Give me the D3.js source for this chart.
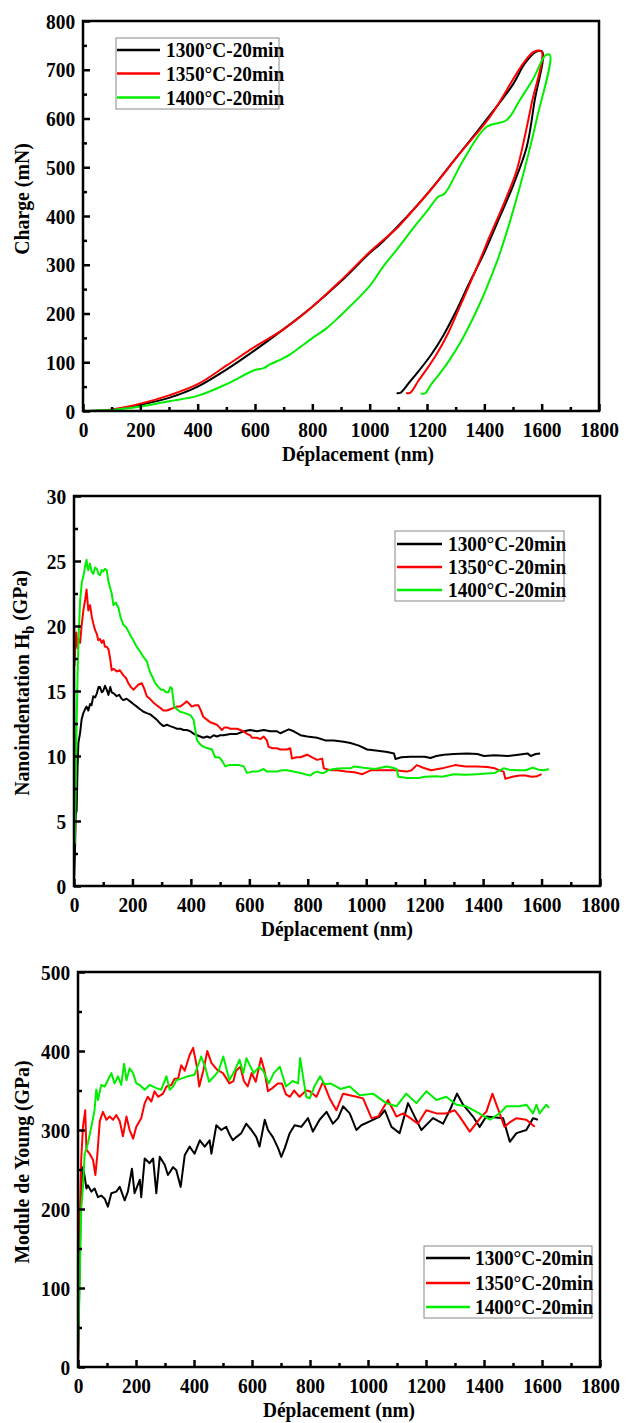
<!DOCTYPE html>
<html>
<head>
<meta charset="utf-8">
<script src="https://cdn.jsdelivr.net/npm/d3@7"></script>
<style>
  body { margin: 0; background: #fff; }
  text { font-family: "Liberation Serif", "Times New Roman", serif; font-weight: bold; fill: #000; }
</style>
</head>
<body>
<div id="root"></div>
<script>
// legend labels and colours
const seriesNames = ['1300°C-20min', '1350°C-20min', '1400°C-20min']
const seriesColors = ['#000000', '#ff0000', '#00ee00']

// shared x ticks (nm)
const xTicks = [0, 200, 400, 600, 800, 1000, 1200, 1400, 1600, 1800]
const xMinor = [100, 300, 500, 700, 900, 1100, 1300, 1500, 1700]

// panel 1 : load (mN) vs displacement (nm), loading + unloading
const load1300 = [[0,0],[50,0.5],[100,2],[200,13],[300,27],[400,50],[500,85],[600,125],[700,168],[800,214],[900,266],[1000,324],[1036,342],[1100,380],[1200,445],[1300,518],[1400,592],[1500,670],[1540,712],[1580,737],[1602,737],
  [1575,635],[1548,542],[1500,462],[1450,393],[1400,325],[1344,258],[1300,203],[1257,155],[1215,116],[1175,85],[1140,60],[1106,37],[1094,37]]
const load1350 = [[0,0],[50,0.5],[100,3],[200,15],[300,32],[400,55],[500,93],[600,132],[700,168],[800,214],[900,268],[1000,326],[1100,378],[1141,405],[1222,460],[1315,529],[1420,604],[1536,713],[1573,737],[1600,737],
  [1565,631],[1540,560],[1513,494],[1470,428],[1420,360],[1385,310],[1350,262],[1310,208],[1274,160],[1235,118],[1199,86],[1170,62],[1141,37],[1127,37]]
const load1400 = [[0,0],[100,2],[200,9],[300,20],[399,31],[500,55],[599,84],[630,88],[650,95],[698,108],[720,115],[799,149],[850,170],[895,194],[998,255],[1047,296],[1100,335],[1152,375],[1200,410],[1240,440],[1260,445],[1327,515],[1408,583],[1478,597],[1524,638],[1571,682],[1614,730],[1629,730],
  [1582,597],[1555,530],[1524,460],[1490,390],[1454,323],[1420,270],[1385,221],[1350,178],[1315,139],[1280,106],[1245,77],[1215,55],[1193,36],[1178,36]]

// panel 2 : hardness (GPa) vs displacement (nm)
const hard1300 = [[0,0.3],[3,2.4],[6,5.5],[9,5.8],[12,9],[15,11],[21,11.8],[26,12.8],[32,13.3],[38,13.6],[43,13.8],[49,13.5],[55,14],[60,13.9],[66,14.6],[72,14.5],[78,14.8],[84,15.3],[89,15.3],[95,14.9],[100,15],[106,15.4],[112,15.1],[118,14.7],[124,15.3],[129,14.9],[137,14.8],[146,14.6],[155,14.7],[163,14.4],[169,14.3],[180,14.4],[192,14.2],[203,14],[215,13.8],[226,13.6],[238,13.4],[249,13.3],[261,13.2],[272,13],[283,12.8],[295,12.5],[306,12.3],[318,12.4],[329,12.3],[341,12.2],[352,12.1],[364,12.1],[375,12],[386,12],[398,11.9],[410,11.7],[421,11.6],[432,11.5],[443,11.4],[455,11.5],[466,11.4],[478,11.6],[489,11.5],[500,11.6],[512,11.6],[535,11.7],[558,11.7],[581,11.9],[603,12],[626,11.9],[649,12],[672,11.9],[695,11.9],[706,11.75],[720,11.9],[735,12.05],[752,11.9],[775,11.6],[798,11.5],[832,11.4],[860,11.2],[889,11.2],[923,11.1],[946,11],[975,10.8],[1003,10.5],[1040,10.4],[1072,10.3],[1095,10.2],[1100,9.77],[1120,9.9],[1150,9.95],[1175,9.95],[1200,9.95],[1220,9.85],[1240,10],[1266,10.1],[1300,10.15],[1346,10.2],[1380,10.15],[1403,10],[1440,10.05],[1483,10],[1520,10.1],[1552,10.2],[1563,10],[1580,10.15],[1595,10.2]]
const hard1350 = [[0,21.2],[2,17],[5,18.8],[8,19.5],[12,18.3],[16,19],[21,18.7],[26,20],[32,21.2],[38,22],[43,22.8],[46,22],[49,21.2],[55,21.6],[61,20.7],[66,20.2],[72,19.7],[78,19.4],[83,18.9],[89,19],[95,18.7],[101,18.9],[106,18.4],[112,18.4],[118,18.2],[123,17.6],[129,16.6],[137,16.7],[146,16.5],[157,16.6],[169,16.2],[178,16],[186,15.6],[195,15.3],[203,15.1],[212,15.3],[221,15.5],[232,15.6],[240,15.2],[249,14.6],[260,14.4],[272,14.1],[283,13.9],[295,13.7],[306,13.5],[318,13.5],[329,13.6],[341,13.7],[352,13.8],[363,13.8],[375,14],[386,14.2],[395,14],[403,13.8],[415,13.9],[426,13.9],[434,13.5],[443,13],[455,12.8],[466,12.6],[478,12.5],[489,12.4],[498,12.2],[506,12],[515,12.2],[523,12.2],[535,12.1],[546,12.1],[558,12.1],[569,12],[580,11.9],[592,11.7],[603,11.6],[609,11.4],[626,11.4],[638,11.3],[649,11.5],[660,11.2],[666,10.7],[680,10.6],[695,10.6],[706,10.5],[729,10.5],[740,10.6],[746,9.8],[760,9.9],[775,9.9],[798,10.1],[815,9.9],[832,9.7],[849,9.8],[855,9.05],[878,8.9],[900,8.9],[931,8.8],[960,8.75],[987,8.6],[1015,8.9],[1050,8.9],[1080,8.9],[1104,8.9],[1120,8.85],[1139,8.8],[1155,8.9],[1173,9.3],[1195,9.1],[1222,8.9],[1260,9.05],[1304,9.3],[1340,9.2],[1380,9.2],[1414,9.15],[1440,9.05],[1456,8.9],[1470,8.8],[1476,8.25],[1500,8.4],[1525,8.5],[1545,8.5],[1566,8.4],[1585,8.45],[1600,8.6]]
const hard1400 = [[0,19],[3,3.3],[6,8],[9,12.5],[12,16],[15,18.7],[21,22],[27,23.4],[32,23.8],[38,24.6],[43,25.1],[46,24.5],[49,24.3],[55,24.8],[60,24.2],[66,24],[72,24.5],[78,24.4],[84,24],[89,23.9],[95,24.3],[100,24.2],[106,24.4],[112,24.3],[118,23.4],[124,22.9],[129,22.5],[135,21.6],[143,21.8],[152,21.4],[160,20.6],[169,20.1],[178,19.9],[186,19.6],[195,19.2],[203,18.9],[212,18.5],[221,18.2],[230,17.9],[238,17.6],[249,17.3],[255,16.8],[261,16.4],[270,16],[278,15.6],[289,15.3],[298,15.1],[306,15.1],[315,14.9],[323,14.9],[330,15.3],[335,15.2],[343,13.8],[352,13.6],[363,13.4],[380,13.3],[392,13.2],[400,13.1],[409,12.8],[415,12],[421,11.2],[432,10.9],[443,10.7],[458,10.6],[472,10.5],[483,9.9],[495,9.9],[501,9.8],[510,9.5],[518,9.2],[530,9.3],[546,9.3],[565,9.3],[581,9.2],[592,8.7],[610,8.8],[626,8.8],[640,8.9],[649,9],[660,8.8],[672,8.8],[695,8.8],[710,8.9],[729,8.9],[750,8.8],[775,8.7],[790,8.6],[809,8.5],[820,8.7],[832,8.8],[845,8.7],[855,8.7],[870,8.9],[889,9],[920,9.05],[946,9.05],[960,9.2],[990,9.1],[1030,9.0],[1070,9.2],[1090,9.1],[1104,9.0],[1110,8.4],[1140,8.3],[1180,8.3],[1200,8.4],[1240,8.45],[1260,8.4],[1300,8.6],[1340,8.55],[1380,8.6],[1410,8.65],[1440,8.7],[1470,9.05],[1490,8.95],[1520,8.9],[1545,8.9],[1570,9.1],[1590,8.95],[1610,8.9],[1625,9.0]]

// panel 3 : Young's modulus (GPa) vs displacement (nm)
const mod1300 = [[0,0],[3,70],[6,135],[11,228],[17,253],[23,241],[29,226],[34,230],[46,222],[57,226],[69,215],[80,217],[92,213],[103,203],[115,220],[132,222],[144,228],[161,211],[172,222],[186,251],[195,220],[213,237],[218,215],[230,264],[247,258],[259,264],[270,220],[282,266],[299,256],[310,243],[328,253],[339,249],[354,228],[368,268],[385,279],[402,270],[420,287],[437,279],[454,287],[460,270],[477,306],[494,300],[511,304],[523,294],[534,287],[546,291],[563,296],[580,308],[598,300],[615,291],[626,279],[644,313],[655,300],[672,291],[690,277],[701,266],[713,277],[730,296],[747,306],[770,304],[793,315],[810,298],[833,313],[857,323],[879,308],[897,315],[914,330],[937,321],[960,300],[977,306],[1006,311],[1040,317],[1058,325],[1081,304],[1109,296],[1138,334],[1161,317],[1184,300],[1224,315],[1259,308],[1282,325],[1307,346],[1328,332],[1362,317],[1385,304],[1408,317],[1466,315],[1489,285],[1512,296],[1546,300],[1569,315],[1586,313]]
const mod1350 = [[0,0],[3,90],[6,177],[11,262],[17,304],[25,325],[29,275],[40,270],[52,262],[60,243],[67,270],[75,311],[86,323],[98,313],[109,317],[121,313],[132,319],[144,311],[155,292],[167,317],[178,300],[190,289],[201,304],[218,315],[230,334],[241,342],[253,336],[264,349],[276,342],[293,346],[305,355],[322,357],[333,365],[345,365],[356,382],[368,375],[385,395],[397,404],[410,380],[418,355],[432,375],[446,400],[460,385],[480,376],[500,372],[522,359],[536,362],[545,375],[560,380],[572,362],[585,355],[599,372],[613,361],[631,391],[643,375],[655,349],[670,353],[689,359],[703,359],[717,345],[731,342],[745,350],[764,342],[787,350],[799,349],[822,342],[845,361],[868,340],[891,325],[914,346],[937,344],[960,342],[983,340],[1012,315],[1035,317],[1069,338],[1098,317],[1121,321],[1146,315],[1172,308],[1201,325],[1236,321],[1270,321],[1299,325],[1316,317],[1351,298],[1391,317],[1408,323],[1429,346],[1448,327],[1471,304],[1490,310],[1512,315],[1546,313],[1575,304]]
const mod1400 = [[0,17],[3,60],[6,114],[11,199],[17,228],[23,270],[34,283],[46,304],[57,325],[63,351],[69,338],[80,357],[92,355],[103,363],[115,372],[126,359],[138,368],[149,357],[159,384],[167,363],[178,378],[190,372],[201,359],[213,357],[230,351],[247,357],[270,353],[287,351],[305,368],[316,351],[328,355],[339,363],[356,365],[379,368],[402,370],[425,393],[440,378],[452,361],[470,368],[485,375],[501,393],[522,363],[540,375],[557,389],[570,372],[581,391],[595,380],[606,372],[625,380],[640,374],[658,359],[675,372],[696,380],[717,355],[740,362],[759,359],[766,391],[775,370],[787,342],[799,340],[815,355],[835,368],[850,358],[870,359],[905,352],[937,355],[971,344],[1017,346],[1063,334],[1098,330],[1132,346],[1167,334],[1201,349],[1236,338],[1270,342],[1305,332],[1339,330],[1374,323],[1420,313],[1454,321],[1477,330],[1523,330],[1546,332],[1569,321],[1581,332],[1592,321],[1615,332],[1624,328]]

// y ticks
const loadTicks = [0, 100, 200, 300, 400, 500, 600, 700, 800]
const loadMinor = [50, 150, 250, 350, 450, 550, 650, 750]
const hardTicks = [0, 5, 10, 15, 20, 25, 30]
const hardMinor = [2.5, 7.5, 12.5, 17.5, 22.5, 27.5]
const modTicks = [0, 100, 200, 300, 400, 500]
const modMinor = [50, 150, 250, 350, 450]

const svg = d3.select('#root').append('svg')
  .attr('width', 633)
  .attr('height', 1423)

const panels = [
  { left: 83, right: 599, top: 21, bottom: 411, ymax: 800, yTicks: loadTicks, yMinor: loadMinor,
    data: [load1300, load1350, load1400], smooth: true, titleX: 358, titleYc: 199,
    yTitle: ['Charge (mN)'],
    legend: { x0: 116, y0: 38, x1: 279, y1: 109, lx0: 117, lx1: 160, tx: 166, rows: [50, 73.5, 97.5] } },
  { left: 74, right: 600, top: 496, bottom: 886, ymax: 30, yTicks: hardTicks, yMinor: hardMinor,
    data: [hard1300, hard1350, hard1400], smooth: false, titleX: 337, titleYc: 683,
    yTitle: ['Nanoindentation H', 'b', ' (GPa)'],
    legend: { x0: 395, y0: 531, x1: 564, y1: 601, lx0: 397, lx1: 442, tx: 448, rows: [544, 567, 590] } },
  { left: 78, right: 600, top: 972, bottom: 1367, ymax: 500, yTicks: modTicks, yMinor: modMinor,
    data: [mod1300, mod1350, mod1400], smooth: false, titleX: 339, titleYc: 1162,
    yTitle: ['Module de Young (GPa)'],
    legend: { x0: 424, y0: 1246, x1: 592, y1: 1318, lx0: 426, lx1: 470, tx: 475, rows: [1258, 1283, 1307] } }
]

// narrow, tall Times-like glyphs as in the figure
const squeeze = 'scale(0.88,1)'

panels.forEach(p => {
  const x = d3.scaleLinear().domain([0, 1800]).range([p.left, p.right])
  const y = d3.scaleLinear().domain([0, p.ymax]).range([p.bottom, p.top])
  const g = svg.append('g')

  const line = d3.line().x(d => x(d[0])).y(d => y(d[1]))
  if (p.smooth) line.curve(d3.curveCatmullRom.alpha(0.5))
  p.data.forEach((d, i) => {
    g.append('path')
      .attr('d', line(d))
      .attr('fill', 'none')
      .attr('stroke', seriesColors[i])
      .attr('stroke-width', 2)
      .attr('stroke-linejoin', 'round')
  })

  // minor ticks
  g.append('g').attr('transform', `translate(0,${p.bottom})`)
    .call(d3.axisBottom(x).tickValues(xMinor).tickSize(-4).tickFormat(''))
  g.append('g').attr('transform', `translate(${p.left},0)`)
    .call(d3.axisLeft(y).tickValues(p.yMinor).tickSize(-4).tickFormat(''))

  // major ticks + labels
  g.append('g').attr('transform', `translate(0,${p.bottom})`)
    .call(d3.axisBottom(x).tickValues(xTicks).tickSize(-7).tickPadding(10).tickFormat(d3.format('d')))
    .selectAll('text')
    .style('font-family', '"Liberation Serif", serif')
    .style('font-size', '22px')
    .attr('transform', squeeze)
  g.append('g').attr('transform', `translate(${p.left},0)`)
    .call(d3.axisLeft(y).tickValues(p.yTicks).tickSize(-7).tickPadding(9).tickFormat(d3.format('d')))
    .selectAll('text')
    .style('font-family', '"Liberation Serif", serif')
    .style('font-size', '22px')
    .attr('transform', squeeze)

  g.selectAll('.domain').remove()
  g.selectAll('.tick line').attr('stroke', '#000').attr('stroke-width', 2.5)

  // frame
  g.append('rect')
    .attr('x', p.left).attr('y', p.top)
    .attr('width', p.right - p.left).attr('height', p.bottom - p.top)
    .attr('fill', 'none').attr('stroke', '#000').attr('stroke-width', 2.5)

  // axis titles
  g.append('text')
    .attr('transform', `translate(${p.titleX},${p.bottom + 50}) ${squeeze}`)
    .attr('text-anchor', 'middle')
    .style('font-size', '22px')
    .text('Déplacement (nm)')

  const yt = g.append('text')
    .attr('transform', `translate(29,${p.titleYc}) rotate(-90) scale(0.9,1)`)
    .attr('text-anchor', 'middle')
    .style('font-size', '22px')
  yt.append('tspan').text(p.yTitle[0])
  if (p.yTitle.length > 1) {
    yt.append('tspan').attr('dy', '0.3em').style('font-size', '16px').text(p.yTitle[1])
    yt.append('tspan').attr('dy', '-0.3em').text(p.yTitle[2])
  }

  // legend
  const L = p.legend
  g.append('rect')
    .attr('x', L.x0).attr('y', L.y0)
    .attr('width', L.x1 - L.x0).attr('height', L.y1 - L.y0)
    .attr('fill', '#fff').attr('stroke', '#888').attr('stroke-width', 1)
  seriesNames.forEach((name, i) => {
    g.append('line')
      .attr('x1', L.lx0).attr('x2', L.lx1)
      .attr('y1', L.rows[i]).attr('y2', L.rows[i])
      .attr('stroke', seriesColors[i]).attr('stroke-width', 2.5)
    g.append('text')
      .attr('transform', `translate(${L.tx},${L.rows[i] + 7}) scale(0.92,1)`)
      .style('font-size', '21px')
      .text(name)
  })
})
</script>
</body>
</html>
